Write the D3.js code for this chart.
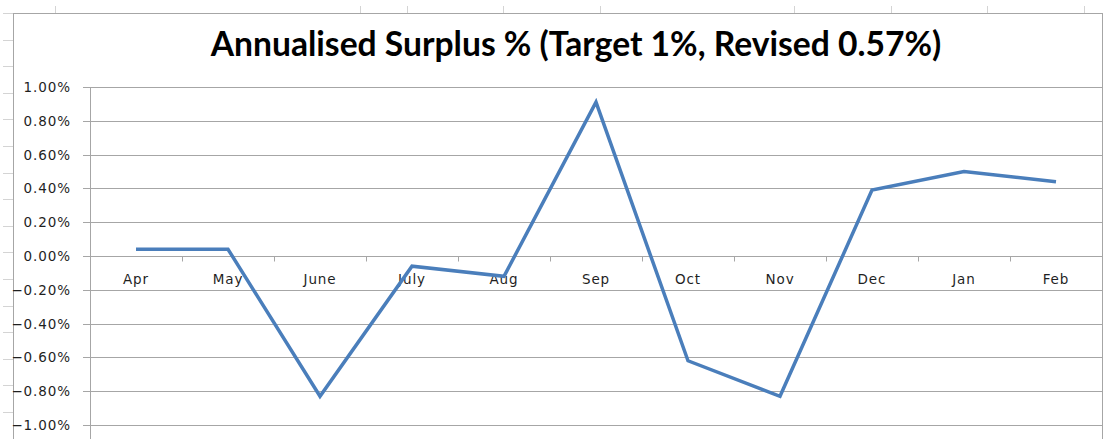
<!DOCTYPE html>
<html><head><meta charset="utf-8">
<script src="https://cdn.jsdelivr.net/npm/d3@7"></script>
<style>html,body{margin:0;padding:0;background:#fff;}svg{display:block;}</style>
</head><body>
<svg id="c" width="1104" height="439"></svg>
<script>
const months = ["Apr","May","June","July","Aug","Sep","Oct","Nov","Dec","Jan","Feb"];
const surplus = [0.04,0.04,-0.83,-0.06,-0.12,0.91,-0.62,-0.83,0.39,0.50,0.44];
const yTicks = [1.0,0.8,0.6,0.4,0.2,0.0,-0.2,-0.4,-0.6,-0.8,-1.0];
const title = "Annualised Surplus % (Target 1%, Revised 0.57%)";

const svg = d3.select("#c");
const W = 1104, H = 439;
const plot = {left: 90, right: 1102, top: 87, bottom: 425};
const labelFont = "'DejaVu Sans', Verdana, sans-serif";

// spreadsheet background marks
const rowYs = d3.range(13, H + 1, 26.6);
svg.append("g").selectAll("line").data(rowYs).join("line")
  .attr("x1", 3).attr("x2", 13).attr("y1", d => Math.round(d) + 0.5).attr("y2", d => Math.round(d) + 0.5)
  .attr("stroke", "#d4d4d4");
const colXs = [55, 360, 407, 503, 600, 794, 891, 987, 1084];
svg.append("g").selectAll("line").data(colXs).join("line")
  .attr("x1", d => d + 0.5).attr("x2", d => d + 0.5).attr("y1", 6).attr("y2", 13)
  .attr("stroke", "#d4d4d4");

// chart frame
svg.append("rect").attr("x", 13.5).attr("y", 13.5).attr("width", 1102 - 13).attr("height", 500)
  .attr("fill", "#fff").attr("stroke", "#a6a6a6");

const x = d3.scaleBand().domain(months).range([plot.left, plot.right]).padding(0);
const y = d3.scaleLinear().domain([-1, 1]).range([plot.bottom, plot.top]);

// gridlines
svg.append("g").selectAll("line").data(yTicks).join("line")
  .attr("x1", plot.left - 7).attr("x2", plot.right)
  .attr("y1", d => Math.round(y(d)) + 0.5).attr("y2", d => Math.round(y(d)) + 0.5)
  .attr("stroke", "#a6a6a6").attr("stroke-width", 1);

// y axis line
svg.append("line").attr("x1", plot.left + 0.5).attr("x2", plot.left + 0.5)
  .attr("y1", plot.top).attr("y2", H).attr("stroke", "#a6a6a6");

// y labels
svg.append("g").selectAll("text").data(yTicks).join("text")
  .attr("x", 71).attr("y", d => y(d) + 5).attr("text-anchor", "end")
  .attr("font-family", labelFont).attr("font-size", 13.5).attr("letter-spacing", 0.9)
  .attr("fill", "#1f1f1f").text(d => d3.format(".2f")(d) + "%");

// x axis ticks at category boundaries
const bounds = months.map(m => x(m)).slice(1).concat([plot.right]);
const y0 = Math.round(y(0)) + 0.5;
svg.append("g").selectAll("line").data(bounds).join("line")
  .attr("x1", d => Math.round(d) + 0.5).attr("x2", d => Math.round(d) + 0.5)
  .attr("y1", y0).attr("y2", y0 + 5).attr("stroke", "#a6a6a6");

// x labels
svg.append("g").selectAll("text").data(months).join("text")
  .attr("x", d => x(d) + x.bandwidth() / 2).attr("y", y0 + 27.5)
  .attr("text-anchor", "middle")
  .attr("font-family", labelFont).attr("font-size", 13.5).attr("letter-spacing", 0.9)
  .attr("fill", "#1f1f1f").text(d => d);

// line
const line = d3.line().x((d, i) => x(months[i]) + x.bandwidth() / 2).y(d => y(d));
svg.append("path").datum(surplus).attr("d", line)
  .attr("fill", "none").attr("stroke", "#4a7ebb").attr("stroke-width", 3.5)
  .attr("stroke-linejoin", "miter");

// title
const t = svg.append("text").attr("x", 576).attr("y", 56).attr("text-anchor", "middle")
  .attr("font-family", "Lato, 'Open Sans', sans-serif").attr("font-weight", "bold")
  .attr("font-size", 26).attr("fill", "#000").text(title);
const tw = t.node().getComputedTextLength();
t.attr("font-size", 26 * 731 / tw);
</script>
</body></html>
